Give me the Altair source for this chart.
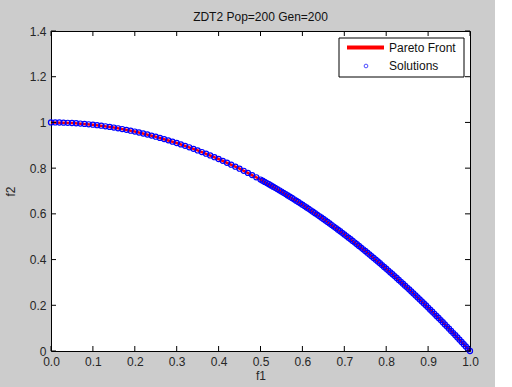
import altair as alt
import pandas as pd

# Pareto front
front_f1 = [0.0, 0.05, 0.1, 0.15, 0.2, 0.25, 0.3, 0.35, 0.4, 0.45, 0.5,
            0.55, 0.6, 0.65, 0.7, 0.75, 0.8, 0.85, 0.9, 0.95, 1.0]
front_f2 = [1.0, 0.9975, 0.99, 0.9775, 0.96, 0.9375, 0.91, 0.8775, 0.84, 0.7975, 0.75,
            0.6975, 0.64, 0.5775, 0.51, 0.4375, 0.36, 0.2775, 0.19, 0.0975, 0.0]

# Solutions
sol_f1 = [0.00, 0.01, 0.02, 0.03, 0.04, 0.05, 0.06, 0.07, 0.08, 0.09,
          0.10, 0.11, 0.12, 0.13, 0.14, 0.15, 0.16, 0.17, 0.18, 0.19,
          0.20, 0.21, 0.22, 0.23, 0.24, 0.25, 0.26, 0.27, 0.28, 0.29,
          0.30, 0.31, 0.32, 0.33, 0.34, 0.35, 0.36, 0.37, 0.38, 0.39,
          0.40, 0.41, 0.42, 0.43, 0.44, 0.45, 0.46, 0.47, 0.48, 0.49,
          0.50, 0.505, 0.51, 0.515, 0.52, 0.525, 0.53, 0.535, 0.54, 0.545,
          0.55, 0.555, 0.56, 0.565, 0.57, 0.575, 0.58, 0.585, 0.59, 0.595,
          0.60, 0.605, 0.61, 0.615, 0.62, 0.625, 0.63, 0.635, 0.64, 0.645,
          0.65, 0.655, 0.66, 0.665, 0.67, 0.675, 0.68, 0.685, 0.69, 0.695,
          0.70, 0.705, 0.71, 0.715, 0.72, 0.725, 0.73, 0.735, 0.74, 0.745,
          0.75, 0.755, 0.76, 0.765, 0.77, 0.775, 0.78, 0.785, 0.79, 0.795,
          0.80, 0.805, 0.81, 0.815, 0.82, 0.825, 0.83, 0.835, 0.84, 0.845,
          0.85, 0.855, 0.86, 0.865, 0.87, 0.875, 0.88, 0.885, 0.89, 0.895,
          0.90, 0.905, 0.91, 0.915, 0.92, 0.925, 0.93, 0.935, 0.94, 0.945,
          0.95, 0.955, 0.96, 0.965, 0.97, 0.975, 0.98, 0.985, 0.99, 0.995, 1.00]
sol_f2 = [1.000, 0.9999, 0.9996, 0.9991, 0.9984, 0.9975, 0.9964, 0.9951, 0.9936, 0.9919,
          0.990, 0.9879, 0.9856, 0.9831, 0.9804, 0.9775, 0.9744, 0.9711, 0.9676, 0.9639,
          0.960, 0.9559, 0.9516, 0.9471, 0.9424, 0.9375, 0.9324, 0.9271, 0.9216, 0.9159,
          0.910, 0.9039, 0.8976, 0.8911, 0.8844, 0.8775, 0.8704, 0.8631, 0.8556, 0.8479,
          0.840, 0.8319, 0.8236, 0.8151, 0.8064, 0.7975, 0.7884, 0.7791, 0.7696, 0.7599,
          0.750, 0.745, 0.7399, 0.7348, 0.7296, 0.7244, 0.7191, 0.7138, 0.7084, 0.703,
          0.6975, 0.692, 0.6864, 0.6808, 0.6751, 0.6694, 0.6636, 0.6578, 0.6519, 0.646,
          0.640, 0.634, 0.6279, 0.6218, 0.6156, 0.6094, 0.6031, 0.5968, 0.5904, 0.584,
          0.5775, 0.571, 0.5644, 0.5578, 0.5511, 0.5444, 0.5376, 0.5308, 0.5239, 0.517,
          0.510, 0.503, 0.4959, 0.4888, 0.4816, 0.4744, 0.4671, 0.4598, 0.4524, 0.445,
          0.4375, 0.430, 0.4224, 0.4148, 0.4071, 0.3994, 0.3916, 0.3838, 0.3759, 0.368,
          0.360, 0.352, 0.3439, 0.3358, 0.3276, 0.3194, 0.3111, 0.3028, 0.2944, 0.286,
          0.2775, 0.269, 0.2604, 0.2518, 0.2431, 0.2344, 0.2256, 0.2168, 0.2079, 0.199,
          0.190, 0.181, 0.1719, 0.1628, 0.1536, 0.1444, 0.1351, 0.1258, 0.1164, 0.107,
          0.0975, 0.088, 0.0784, 0.0688, 0.0591, 0.0494, 0.0396, 0.0298, 0.0199, 0.010, 0.0]

x_ticks = [0, 0.1, 0.2, 0.3, 0.4, 0.5, 0.6, 0.7, 0.8, 0.9, 1.0]
y_ticks = [0, 0.2, 0.4, 0.6, 0.8, 1.0, 1.2, 1.4]

TITLE = "ZDT2 Pop=200 Gen=200"
W, H = 419, 320
FONT = "Liberation Sans"
TXT = "#262626"
FS = 12

front = pd.DataFrame({"f1": front_f1, "f2": front_f2})
sols = pd.DataFrame({"f1": sol_f1, "f2": sol_f2})
xt = pd.DataFrame({"v": x_ticks})
yt = pd.DataFrame({"v": y_ticks})

xscale = alt.Scale(domain=[0, 1], nice=False, zero=False)
yscale = alt.Scale(domain=[0, 1.4], nice=False, zero=False)

xaxis = alt.Axis(values=x_ticks, ticks=False, domain=False, grid=False,
                 title="f1", labelFontSize=FS, titleFontSize=FS,
                 labelFont=FONT, titleFont=FONT, labelColor=TXT,
                 titleColor=TXT, titleFontWeight="normal",
                 labelPadding=5, titlePadding=3, labelFlush=False)
yaxis = alt.Axis(values=y_ticks, ticks=False, domain=False, grid=False,
                 title="f2", labelFontSize=FS, titleFontSize=FS,
                 labelFont=FONT, titleFont=FONT, labelColor=TXT,
                 titleColor=TXT, titleFontWeight="normal",
                 labelPadding=5, titlePadding=12, labelFlush=False,
                 format="~g")

line = alt.Chart(front).mark_line(color="#ff0000", strokeWidth=2.5, clip=True).encode(
    x=alt.X("f1:Q", scale=xscale, axis=xaxis),
    y=alt.Y("f2:Q", scale=yscale, axis=yaxis),
)

pts = alt.Chart(sols).mark_point(shape="circle", filled=False, color="#0000ff",
                                 size=26, strokeWidth=1.2, opacity=1).encode(
    x=alt.X("f1:Q", scale=xscale),
    y=alt.Y("f2:Q", scale=yscale),
)

tick_bottom = alt.Chart(xt).mark_rule(color="black", strokeWidth=1).encode(
    x=alt.X("v:Q", scale=xscale), y=alt.value(H), y2=alt.value(H - 5))
tick_top = alt.Chart(xt).mark_rule(color="black", strokeWidth=1).encode(
    x=alt.X("v:Q", scale=xscale), y=alt.value(0), y2=alt.value(5))
tick_left = alt.Chart(yt).mark_rule(color="black", strokeWidth=1).encode(
    y=alt.Y("v:Q", scale=yscale), x=alt.value(0), x2=alt.value(5))
tick_right = alt.Chart(yt).mark_rule(color="black", strokeWidth=1).encode(
    y=alt.Y("v:Q", scale=yscale), x=alt.value(W), x2=alt.value(W - 5))

one = pd.DataFrame({"a": [0]})

# white strip at the right edge of the figure
strip = alt.Chart(one).mark_rect(color="white", clip=False).encode(
    x=alt.value(444), x2=alt.value(470), y=alt.value(-40), y2=alt.value(370))

title = alt.Chart(one).mark_text(text=TITLE, align="center", baseline="middle",
                                 font=FONT, fontSize=FS, color="#111").encode(
    x=alt.value(W / 2), y=alt.value(-14))

# legend
leg_box = alt.Chart(one).mark_rect(fill="white", stroke="black", strokeWidth=1).encode(
    x=alt.value(288), x2=alt.value(413), y=alt.value(7), y2=alt.value(46))
leg_line = alt.Chart(one).mark_rule(color="#ff0000", strokeWidth=4).encode(
    x=alt.value(296), x2=alt.value(333), y=alt.value(16.5))
leg_pt = alt.Chart(one).mark_point(shape="circle", filled=False, color="#0000ff",
                                   size=14, strokeWidth=1).encode(
    x=alt.value(315), y=alt.value(35))
leg_t1 = alt.Chart(one).mark_text(text="Pareto Front", align="left", baseline="middle",
                                  font=FONT, fontSize=FS, color="#111").encode(
    x=alt.value(338), y=alt.value(16.5))
leg_t2 = alt.Chart(one).mark_text(text="Solutions", align="left", baseline="middle",
                                  font=FONT, fontSize=FS, color="#111").encode(
    x=alt.value(338), y=alt.value(35))

chart = alt.layer(
    strip, title, line, pts, tick_bottom, tick_top, tick_left, tick_right,
    leg_box, leg_line, leg_pt, leg_t1, leg_t2,
).properties(
    width=W, height=H,
    autosize=alt.AutoSizeParams(type="none"),
    padding={"left": 51, "top": 31, "right": 42, "bottom": 36},
).configure(
    background="#cccccc",
).configure_view(
    fill="white", stroke="black", strokeWidth=1,
)

chart.save("out.html", embed_options={"renderer": "svg", "actions": False})
